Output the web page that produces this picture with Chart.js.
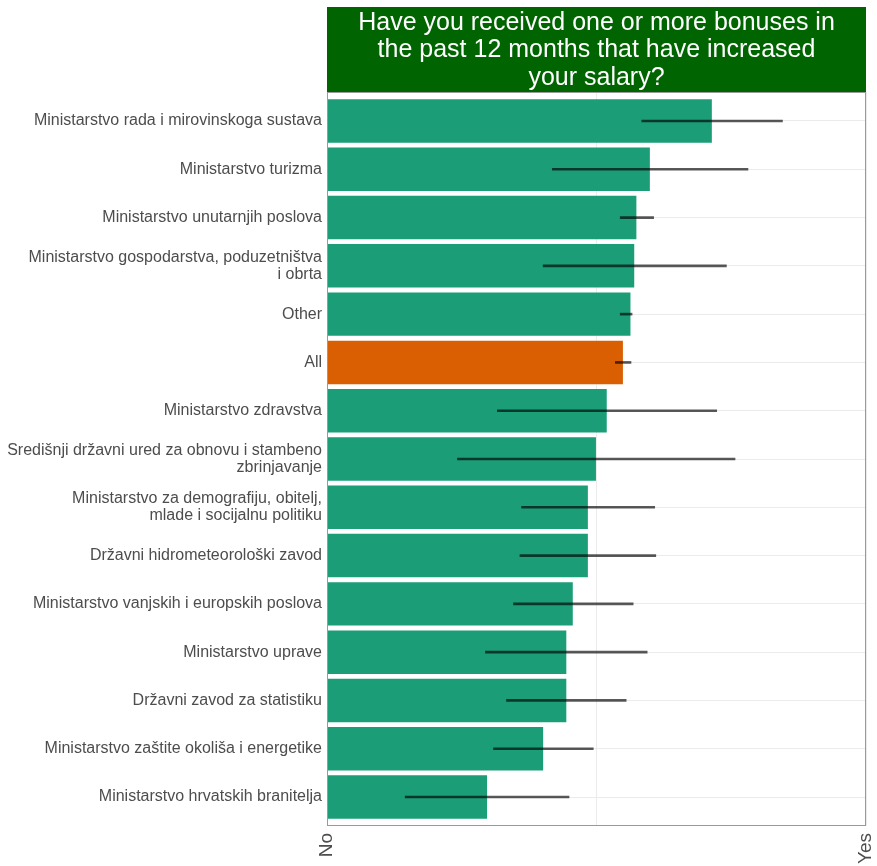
<!DOCTYPE html>
<html>
<head>
<meta charset="utf-8">
<script src="https://cdn.jsdelivr.net/npm/chart.js@4.4.1/dist/chart.umd.min.js"></script>
<style>
  html, body { margin: 0; padding: 0; background: #fff; }
  canvas { display: block; }
</style>
</head>
<body>
<canvas id="bonusChart" width="877" height="866"></canvas>
<script>
// categories, top to bottom
var categories = [
  'Ministarstvo rada i mirovinskoga sustava',
  'Ministarstvo turizma',
  'Ministarstvo unutarnjih poslova',
  ['Ministarstvo gospodarstva, poduzetništva', 'i obrta'],
  'Other',
  'All',
  'Ministarstvo zdravstva',
  ['Središnji državni ured za obnovu i stambeno', 'zbrinjavanje'],
  ['Ministarstvo za demografiju, obitelj,', 'mlade i socijalnu politiku'],
  'Državni hidrometeorološki zavod',
  'Ministarstvo vanjskih i europskih poslova',
  'Ministarstvo uprave',
  'Državni zavod za statistiku',
  'Ministarstvo zaštite okoliša i energetike',
  'Ministarstvo hrvatskih branitelja'
];

// share answering "yes" (0 = No, 1 = Yes)
var means = [0.714, 0.599, 0.574, 0.570, 0.563, 0.549, 0.519, 0.499, 0.484, 0.484, 0.456, 0.444, 0.444, 0.401, 0.297];
var lowerCI = [0.584, 0.418, 0.544, 0.401, 0.544, 0.535, 0.316, 0.242, 0.361, 0.358, 0.346, 0.294, 0.333, 0.309, 0.145];
var upperCI = [0.845, 0.781, 0.606, 0.741, 0.566, 0.564, 0.723, 0.757, 0.608, 0.610, 0.568, 0.594, 0.555, 0.494, 0.449];

var xTickLabels = { 0: 'No', 1: 'Yes' };
var titleLines = ['Have you received one or more bonuses in', 'the past 12 months that have increased', 'your salary?'];

var barPoints = means.map(function(m, i) { return { x: m, y: i }; });
var errPoints = lowerCI.map(function(lo, i) { return { x: [lo, upperCI[i]], y: i }; });
var barColours = categories.map(function(c) { return c === 'All' ? '#d95f02' : '#1b9e77'; });

// green title strip over the panel plus the panel border
var stripPlugin = {
  id: 'strip',
  beforeDraw: function(chart) {
    var ctx = chart.ctx;
    ctx.save();
    ctx.fillStyle = '#fff';
    ctx.fillRect(0, 0, chart.width, chart.height);
    ctx.restore();
  },
  afterDraw: function(chart) {
    var a = chart.chartArea, ctx = chart.ctx;
    ctx.save();
    ctx.fillStyle = '#006400';
    ctx.fillRect(a.left, 7, a.right - a.left, a.top - 7);
    ctx.fillStyle = '#ffffff';
    ctx.font = '25px "Liberation Sans", Arial, sans-serif';
    ctx.textAlign = 'center';
    ctx.textBaseline = 'middle';
    for (var i = 0; i < titleLines.length; i++) {
      ctx.fillText(titleLines[i], (a.left + a.right) / 2, 23 + i * 27.5);
    }
    ctx.strokeStyle = '#9a9a9a';
    ctx.lineWidth = 1;
    ctx.strokeRect(a.left + 0.5, a.top + 0.5, a.right - a.left - 1, a.bottom - a.top - 1);
    ctx.restore();
  }
};

var ctx = document.getElementById('bonusChart');
var chart = new Chart(ctx, {
  type: 'bar',
  data: {
    datasets: [
      {
        label: 'CI',
        data: errPoints,
        backgroundColor: 'rgba(0,0,0,0.65)',
        barThickness: 2,
        grouped: false,
        order: 1
      },
      {
        label: 'Share',
        data: barPoints,
        backgroundColor: barColours,
        borderWidth: 0,
        barPercentage: 0.9,
        categoryPercentage: 1.0,
        grouped: false,
        order: 2
      }
    ]
  },
  options: {
    indexAxis: 'y',
    responsive: false,
    animation: false,
    layout: { padding: { top: 92, right: 11, left: 0, bottom: 0 } },
    plugins: {
      legend: { display: false },
      tooltip: { enabled: false },
      title: { display: false }
    },
    scales: {
      x: {
        type: 'linear',
        min: 0,
        max: 1,
        border: { display: false },
        grid: { color: '#ebebeb', drawTicks: false },
        afterFit: function(scale) {
          scale.height = 40;
          scale.paddingLeft = 0;
          scale.paddingRight = 0;
        },
        afterBuildTicks: function(scale) {
          scale.ticks = [{ value: 0 }, { value: 0.5 }, { value: 1 }];
        },
        ticks: {
          minRotation: 90,
          maxRotation: 90,
          autoSkip: false,
          padding: 7,
          color: '#4d4d4d',
          font: { family: '"Liberation Sans", Arial, sans-serif', size: 19 },
          callback: function(v) { return xTickLabels[v] || ''; }
        }
      },
      y: {
        type: 'linear',
        reverse: true,
        offset: false,
        min: -0.6,
        max: categories.length - 1 + 0.6,
        border: { display: false },
        grid: { color: '#ebebeb', drawTicks: false, offset: false },
        afterFit: function(scale) { scale.width = 327; },
        afterBuildTicks: function(scale) {
          scale.ticks = categories.map(function(c, i) { return { value: i }; });
        },
        ticks: {
          padding: 5,
          autoSkip: false,
          color: '#4d4d4d',
          font: { family: '"Liberation Sans", Arial, sans-serif', size: 16, lineHeight: 1.05 },
          callback: function(v) { return categories[v]; }
        }
      }
    }
  },
  plugins: [stripPlugin]
});
</script>
</body>
</html>
